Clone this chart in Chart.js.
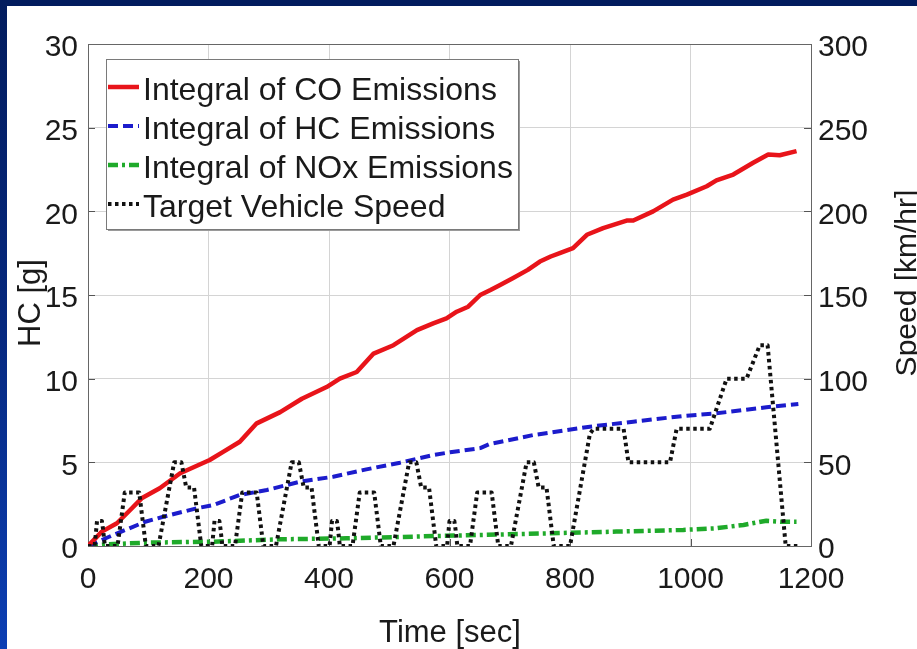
<!DOCTYPE html>
<html>
<head>
<meta charset="utf-8">
<script src="https://cdn.jsdelivr.net/npm/chart.js@4.4.1/dist/chart.umd.min.js"></script>
<style>
  html, body { margin: 0; padding: 0; background: #021c5e; overflow: hidden; }
  canvas { display: block; }
</style>
</head>
<body>
<canvas id="chart" width="917" height="649"></canvas>
<script>
// Cumulative CO emissions [g] over the drive cycle
const coTime  = [0, 23, 48, 70, 89, 119, 153, 202, 225, 252, 280, 319, 355, 396, 418, 446, 474, 507, 546, 573, 595, 612, 631, 651, 668, 684, 705, 730, 750, 768, 783, 805, 828, 855, 894, 905, 938, 971, 994, 1027, 1043, 1071, 1104, 1129, 1148, 1176];
const coGrams = [0, 0.86, 1.36, 2.15, 2.85, 3.45, 4.35, 5.14, 5.64, 6.23, 7.33, 8.0, 8.8, 9.5, 10.0, 10.4, 11.5, 12.0, 12.9, 13.3, 13.6, 14.0, 14.3, 15.0, 15.3, 15.6, 16.0, 16.5, 17.0, 17.3, 17.5, 17.8, 18.6, 19.0, 19.45, 19.45, 20.0, 20.7, 21.0, 21.5, 21.85, 22.2, 22.9, 23.4, 23.35, 23.6];

// Cumulative HC emissions [g]
const hcTime  = [0, 42, 95, 125, 180, 208, 252, 297, 352, 407, 462, 518, 573, 601, 651, 667, 739, 833, 905, 988, 1043, 1126, 1179];
const hcGrams = [0, 0.66, 1.45, 1.75, 2.25, 2.45, 3.05, 3.35, 3.84, 4.14, 4.58, 4.98, 5.44, 5.6, 5.85, 6.1, 6.63, 7.13, 7.43, 7.77, 7.93, 8.29, 8.49];

// Cumulative NOx emissions [g]
const noxTime  = [0, 30, 97, 208, 319, 429, 540, 651, 767, 877, 988, 1043, 1088, 1126, 1150, 1176];
const noxGrams = [0, 0.1, 0.2, 0.26, 0.4, 0.46, 0.56, 0.66, 0.76, 0.86, 0.96, 1.06, 1.26, 1.51, 1.45, 1.45];

// Target vehicle speed [km/hr]: four urban cycles followed by the extra-urban part
const speedTime = [
  0, 11, 15, 23, 25, 28, 49, 61, 85, 96, 117, 143, 155, 163, 176, 188,
  206, 210, 218, 220, 223, 244, 256, 280, 291, 312, 338, 350, 358, 371, 383,
  401, 405, 413, 415, 418, 439, 451, 475, 486, 507, 533, 545, 553, 566, 578,
  596, 600, 608, 610, 613, 634, 646, 670, 681, 702, 728, 740, 748, 761, 773,
  800, 833, 839, 889, 897, 966, 977, 1032, 1060, 1093, 1115, 1128, 1158, 1180
];
const speedKmh = [
  0, 0, 15, 15, 10, 0, 0, 32, 32, 0, 0, 50, 50, 35, 35, 0,
  0, 15, 15, 10, 0, 0, 32, 32, 0, 0, 50, 50, 35, 35, 0,
  0, 15, 15, 10, 0, 0, 32, 32, 0, 0, 50, 50, 35, 35, 0,
  0, 15, 15, 10, 0, 0, 32, 32, 0, 0, 50, 50, 35, 35, 0,
  0, 67, 70, 70, 50, 50, 70, 70, 100, 100, 120, 120, 0, 0
];

const seriesLabels = [
  'Integral of CO Emissions',
  'Integral of HC Emissions',
  'Integral of NOx Emissions',
  'Target Vehicle Speed'
];
const titleX = 'Time [sec]';
const titleY = 'HC [g]';
const titleY2 = 'Speed [km/hr]';

const FONT = '"Liberation Sans", Arial, Helvetica, sans-serif';
const TEXT = '#1a1a1a';

const pairs = (xs, ys) => xs.map((x, i) => ({ x, y: ys[i] }));

// Slide backdrop: navy frame with a white panel
const backdrop = {
  id: 'backdrop',
  beforeDraw(chart) {
    const { ctx, width, height } = chart;
    ctx.save();
    ctx.fillStyle = '#021c5e';
    ctx.fillRect(0, 0, width, height);
    const g = ctx.createLinearGradient(0, 0, 0, height);
    g.addColorStop(0, '#021c5e');
    g.addColorStop(0.5, '#06287e');
    g.addColorStop(1, '#0c3fb4');
    ctx.fillStyle = g;
    ctx.fillRect(0, 0, 7, height);
    ctx.fillStyle = '#ffffff';
    ctx.fillRect(7, 6, width - 7, height - 6);
    ctx.restore();
  }
};

// Axes box with short inward tick marks
const axesBox = {
  id: 'axesBox',
  beforeDatasetsDraw(chart) {
    const { ctx, chartArea: a, scales } = chart;
    ctx.save();
    ctx.strokeStyle = '#555';
    ctx.lineWidth = 1;
    ctx.beginPath();
    scales.y.ticks.forEach(t => {
      const py = Math.round(scales.y.getPixelForValue(t.value)) + 0.5;
      ctx.moveTo(a.left, py); ctx.lineTo(a.left + 7, py);
    });
    scales.y1.ticks.forEach(t => {
      const py = Math.round(scales.y1.getPixelForValue(t.value)) + 0.5;
      ctx.moveTo(a.right, py); ctx.lineTo(a.right - 7, py);
    });
    scales.x.ticks.forEach(t => {
      const px = Math.round(scales.x.getPixelForValue(t.value)) + 0.5;
      ctx.moveTo(px, a.bottom); ctx.lineTo(px, a.bottom - 7);
    });
    ctx.stroke();
    ctx.strokeStyle = '#666';
    ctx.strokeRect(Math.round(a.left) + 0.5, Math.round(a.top) + 0.5,
                   Math.round(a.right - a.left), Math.round(a.bottom - a.top));
    ctx.restore();
  }
};

// Boxed legend in the upper-left corner of the plot
const boxLegend = {
  id: 'boxLegend',
  afterDatasetsDraw(chart) {
    const { ctx } = chart;
    const x0 = 106, y0 = 59, w = 412, h = 170;
    ctx.save();
    ctx.fillStyle = '#9a9a9a';
    ctx.fillRect(x0 + 2, y0 + 2, w, h);
    ctx.fillStyle = '#ffffff';
    ctx.fillRect(x0, y0, w, h);
    ctx.strokeStyle = '#7a7a7a';
    ctx.lineWidth = 1;
    ctx.strokeRect(x0 + 0.5, y0 + 0.5, w, h);
    ctx.font = '32px ' + FONT;
    ctx.textAlign = 'left';
    ctx.textBaseline = 'alphabetic';
    chart.data.datasets.forEach((ds, i) => {
      const ly = 87 + i * 39;
      ctx.strokeStyle = ds.borderColor;
      ctx.lineWidth = ds.borderWidth;
      ctx.setLineDash(ds.borderDash || []);
      ctx.beginPath();
      ctx.moveTo(108, ly);
      ctx.lineTo(139, ly);
      ctx.stroke();
      ctx.setLineDash([]);
      ctx.fillStyle = TEXT;
      ctx.fillText(ds.label, 143, 100 + i * 39);
    });
    ctx.restore();
  }
};

// Axis titles
const axisTitles = {
  id: 'axisTitles',
  afterDraw(chart) {
    const { ctx } = chart;
    ctx.save();
    ctx.fillStyle = TEXT;
    ctx.font = '31px ' + FONT;
    ctx.textAlign = 'center';
    ctx.textBaseline = 'alphabetic';
    ctx.fillText(titleX, 450, 642);
    ctx.save();
    ctx.translate(40, 303);
    ctx.rotate(-Math.PI / 2);
    ctx.fillText(titleY, 0, 0);
    ctx.restore();
    ctx.save();
    ctx.font = '30px ' + FONT;
    ctx.translate(916, 283);
    ctx.rotate(-Math.PI / 2);
    ctx.fillText(titleY2, 0, 0);
    ctx.restore();
    ctx.restore();
  }
};

const plainTick = v => String(v);

new Chart(document.getElementById('chart'), {
  type: 'line',
  data: {
    datasets: [
      {
        label: seriesLabels[0], data: pairs(coTime, coGrams), yAxisID: 'y',
        borderColor: '#e8141a', borderWidth: 4.5, order: 1
      },
      {
        label: seriesLabels[1], data: pairs(hcTime, hcGrams), yAxisID: 'y',
        borderColor: '#1c1ccc', borderWidth: 4, borderDash: [10, 5], order: 2
      },
      {
        label: seriesLabels[2], data: pairs(noxTime, noxGrams), yAxisID: 'y',
        borderColor: '#1faa2a', borderWidth: 4.5, borderDash: [10, 4, 3, 4], order: 3
      },
      {
        label: seriesLabels[3], data: pairs(speedTime, speedKmh), yAxisID: 'y1',
        borderColor: '#111111', borderWidth: 4, borderDash: [3.5, 3.5], order: 0
      }
    ]
  },
  options: {
    responsive: false,
    animation: false,
    devicePixelRatio: 1,
    parsing: false,
    elements: {
      point: { radius: 0, hoverRadius: 0 },
      line: { tension: 0, fill: false, borderJoinStyle: 'round', borderCapStyle: 'butt' }
    },
    layout: { padding: { left: 0, right: 0, top: 44, bottom: 0 } },
    plugins: { legend: { display: false }, tooltip: { enabled: false } },
    scales: {
      x: {
        type: 'linear', min: 0, max: 1200,
        afterFit(s) { s.height = 103; },
        border: { display: false },
        grid: { color: '#d4d4d4', lineWidth: 1, drawTicks: false },
        ticks: { stepSize: 200, padding: 16, color: TEXT, font: { family: FONT, size: 30 }, maxRotation: 0, callback: plainTick }
      },
      y: {
        type: 'linear', position: 'left', min: 0, max: 30,
        afterFit(s) { s.width = 88; },
        border: { display: false },
        grid: { color: '#d4d4d4', lineWidth: 1, drawTicks: false },
        ticks: { stepSize: 5, padding: 10, labelOffset: 4, color: TEXT, font: { family: FONT, size: 30 }, callback: plainTick }
      },
      y1: {
        type: 'linear', position: 'right', min: 0, max: 300,
        afterFit(s) { s.width = 106; },
        border: { display: false },
        grid: { display: false, drawTicks: false },
        ticks: { stepSize: 50, padding: 7, labelOffset: 4, color: TEXT, font: { family: FONT, size: 30 }, callback: plainTick }
      }
    }
  },
  plugins: [backdrop, axesBox, boxLegend, axisTitles]
});
</script>
</body>
</html>
